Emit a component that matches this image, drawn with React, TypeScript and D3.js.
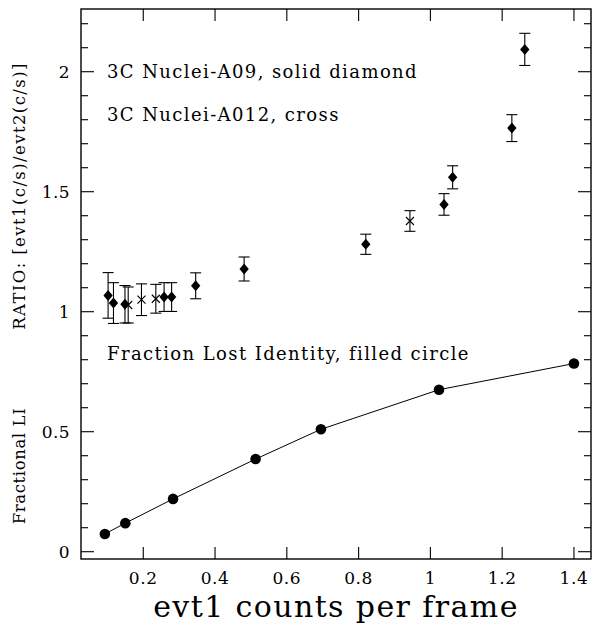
import React from "react";
import * as d3 from "d3";

// Count-rate ratio evt1/evt2 for the 3C nuclei, two observations
const a09X = [0.102, 0.117, 0.149, 0.258, 0.279, 0.346, 0.481, 0.82, 1.038, 1.062, 1.227, 1.263];
const a09Y = [1.068, 1.036, 1.031, 1.061, 1.061, 1.108, 1.178, 1.281, 1.447, 1.56, 1.765, 2.093];
const a09Err = [0.095, 0.085, 0.078, 0.06, 0.06, 0.054, 0.05, 0.042, 0.045, 0.048, 0.056, 0.067];

const a012X = [0.158, 0.195, 0.235, 0.943];
const a012Y = [1.028, 1.05, 1.054, 1.378];
const a012Err = [0.075, 0.066, 0.06, 0.043];

// Fraction of events that lose their identity
const lostX = [0.093, 0.15, 0.283, 0.513, 0.695, 1.024, 1.4];
const lostY = [0.074, 0.119, 0.22, 0.386, 0.51, 0.675, 0.784];

const xTicks = [0.2, 0.4, 0.6, 0.8, 1, 1.2, 1.4];
const yTicks = [0, 0.5, 1, 1.5, 2];
const yMinor = [0.1, 0.2, 0.3, 0.4, 0.6, 0.7, 0.8, 0.9, 1.1, 1.2, 1.3, 1.4, 1.6, 1.7, 1.8, 1.9, 2.1, 2.2];

const W = 594;
const H = 631;
const left = 81;
const right = 591;
const top = 9;
const bottom = 559;

const FONT = "'DejaVu Serif', serif";

export default function App() {
  const x = d3.scaleLinear().domain([0.0265, 1.4475]).range([left, right]);
  const y = d3.scaleLinear().domain([-0.0304, 2.2613]).range([bottom, top]);

  const line = d3
    .line<number>()
    .x((_, i) => x(lostX[i]))
    .y((_, i) => y(lostY[i]));

  const errorBar = (cx: number, cy: number, e: number, key: string) => {
    const px = x(cx);
    const y0 = y(cy - e);
    const y1 = y(cy + e);
    const cap = 5.5;
    return (
      <g key={key} stroke="#000" strokeWidth={1.1}>
        <line x1={px} x2={px} y1={y0} y2={y1} />
        <line x1={px - cap} x2={px + cap} y1={y0} y2={y0} />
        <line x1={px - cap} x2={px + cap} y1={y1} y2={y1} />
      </g>
    );
  };

  return (
    <svg
      width={W}
      height={H}
      style={{ position: "absolute", left: 0, top: 0, background: "#fff" }}
      fontFamily={FONT}
    >
      <rect x={0} y={0} width={W} height={H} fill="#fff" />

      {/* frame */}
      <rect
        x={left}
        y={top}
        width={right - left}
        height={bottom - top}
        fill="none"
        stroke="#000"
        strokeWidth={1.4}
      />

      {/* x ticks, bottom and top */}
      {xTicks.map((t) => (
        <g key={"xt" + t} stroke="#000" strokeWidth={1.1}>
          <line x1={x(t)} x2={x(t)} y1={bottom} y2={bottom - 12} />
          <line x1={x(t)} x2={x(t)} y1={top} y2={top + 12} />
        </g>
      ))}
      {xTicks.map((t) => (
        <text
          key={"xl" + t}
          x={x(t)}
          y={584}
          fontSize={17}
          letterSpacing={0.6}
          textAnchor="middle"
          fill="#000"
        >
          {d3.format("~g")(t)}
        </text>
      ))}

      {/* y ticks, left and right */}
      {yTicks.map((t) => (
        <g key={"yt" + t} stroke="#000" strokeWidth={1.1}>
          <line x1={left} x2={left + 13} y1={y(t)} y2={y(t)} />
          <line x1={right} x2={right - 13} y1={y(t)} y2={y(t)} />
        </g>
      ))}
      {yMinor.map((t) => (
        <g key={"ym" + t} stroke="#000" strokeWidth={1.1}>
          <line x1={left} x2={left + 7} y1={y(t)} y2={y(t)} />
          <line x1={right} x2={right - 7} y1={y(t)} y2={y(t)} />
        </g>
      ))}
      {yTicks.map((t) => (
        <text
          key={"yl" + t}
          x={70}
          y={y(t) + 6}
          fontSize={17}
          letterSpacing={0.4}
          textAnchor="end"
          fill="#000"
        >
          {d3.format("~g")(t)}
        </text>
      ))}

      {/* axis titles */}
      <text
        x={336}
        y={617}
        fontSize={30}
        letterSpacing={1.4}
        textAnchor="middle"
        fill="#000"
      >
        evt1 counts per frame
      </text>
      <text
        transform={`translate(25,196) rotate(-90)`}
        fontSize={16.5}
        letterSpacing={1.4}
        textAnchor="middle"
        fill="#000"
      >
        RATIO: [evt1(c/s)/evt2(c/s)]
      </text>
      <text
        transform={`translate(25,466) rotate(-90)`}
        fontSize={16.5}
        letterSpacing={0.6}
        textAnchor="middle"
        fill="#000"
      >
        Fractional LI
      </text>

      {/* annotations */}
      <text x={107} y={78} fontSize={18} letterSpacing={1.4} fill="#000">
        3C Nuclei-A09, solid diamond
      </text>
      <text x={107} y={121} fontSize={18} letterSpacing={1.4} fill="#000">
        3C Nuclei-A012, cross
      </text>
      <text x={107} y={360} fontSize={18} letterSpacing={1.4} fill="#000">
        Fraction Lost Identity, filled circle
      </text>

      {/* A012: crosses with error bars */}
      {a012X.map((v, i) => errorBar(v, a012Y[i], a012Err[i], "ce" + i))}
      {a012X.map((v, i) => {
        const px = x(v);
        const py = y(a012Y[i]);
        const s = 4;
        return (
          <g key={"cx" + i} stroke="#000" strokeWidth={1.1}>
            <line x1={px - s} x2={px + s} y1={py - s} y2={py + s} />
            <line x1={px - s} x2={px + s} y1={py + s} y2={py - s} />
          </g>
        );
      })}

      {/* A09: solid diamonds with error bars */}
      {a09X.map((v, i) => errorBar(v, a09Y[i], a09Err[i], "de" + i))}
      {a09X.map((v, i) => {
        const px = x(v);
        const py = y(a09Y[i]);
        const s = 5.5;
        return (
          <path
            key={"dm" + i}
            d={`M${px},${py - s}L${px + s * 0.85},${py}L${px},${py + s}L${px - s * 0.85},${py}Z`}
            fill="#000"
          />
        );
      })}

      {/* fraction lost identity */}
      <path d={line(lostX) ?? ""} fill="none" stroke="#000" strokeWidth={1} />
      {lostX.map((v, i) => (
        <circle key={"lc" + i} cx={x(v)} cy={y(lostY[i])} r={5.3} fill="#000" />
      ))}
    </svg>
  );
}
